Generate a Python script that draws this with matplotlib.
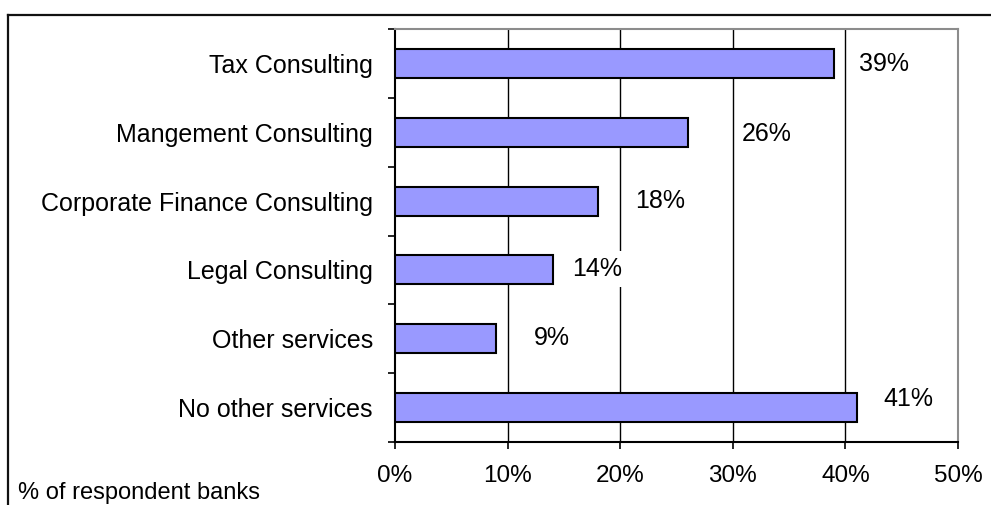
import matplotlib.pyplot as plt
from matplotlib.lines import Line2D

plt.rcParams["font.family"] = ["Liberation Sans", "DejaVu Sans"]

# --- data ---
services = [
    "Tax Consulting",
    "Mangement Consulting",
    "Corporate Finance Consulting",
    "Legal Consulting",
    "Other services",
    "No other services",
]
share_pct = [39, 26, 18, 14, 9, 41]
x_ticks = [0, 10, 20, 30, 40, 50]

# label placement (x offset in %, y shift in category units)
label_dx = [2.2, 4.8, 3.3, 1.7, 3.3, 2.4]
label_dy = [0.01, 0.03, 0.0, -0.01, -0.01, -0.12]

BAR_COLOR = "#9999FF"

fig = plt.figure(figsize=(9.91, 5.05), dpi=100)
ax = fig.add_axes([395 / 991, 1 - 442 / 505, (958 - 395) / 991, (442 - 29) / 505])

ypos = list(range(len(services)))
ax.barh(ypos, share_pct, height=0.42, color=BAR_COLOR, edgecolor="black",
        linewidth=1.5, zorder=3)

# vertical gridlines (inner ticks only)
for x in x_ticks[1:-1]:
    ax.axvline(x, color="black", linewidth=1.0, zorder=1)

# value labels with white boxes
for y, v, dx, dy in zip(ypos, share_pct, label_dx, label_dy):
    ax.text(v + dx, y + dy, f"{v}%", fontsize=18, ha="left", va="center",
            zorder=4, bbox=dict(facecolor="white", edgecolor="none",
                                boxstyle="square,pad=0.25"))

ax.set_xlim(0, 50)
ax.set_ylim(len(services) - 0.5, -0.5)

ax.set_xticks(x_ticks)
ax.set_xticklabels([f"{t}%" for t in x_ticks], fontsize=17.5)
ax.tick_params(axis="x", direction="out", length=5, width=1.2, pad=11.5,
               color="black")

ax.set_yticks(ypos)
ax.set_yticklabels(services, fontsize=18)
ax.set_yticks([i - 0.5 for i in range(len(services) + 1)], minor=True)
ax.tick_params(axis="y", which="major", length=0, pad=16)
ax.tick_params(axis="y", which="minor", direction="out", length=5, width=1.2,
               color="black")

for side in ("left", "bottom"):
    ax.spines[side].set_color("black")
    ax.spines[side].set_linewidth(1.5)
for side in ("top", "right"):
    ax.spines[side].set_color("#8c8c8c")
    ax.spines[side].set_linewidth(1.5)

# outer chart frame
top = 1 - 15 / 505
left = 8 / 991
fig.add_artist(Line2D([left, 1.0], [top, top], transform=fig.transFigure,
                      color="#111111", linewidth=1.6))
fig.add_artist(Line2D([left, left], [0.0, top], transform=fig.transFigure,
                      color="#111111", linewidth=1.6))

fig.text(18 / 991, 1 - 493 / 505, "% of respondent banks", fontsize=17,
         ha="left", va="center")

fig.savefig("out.png", dpi=100)
